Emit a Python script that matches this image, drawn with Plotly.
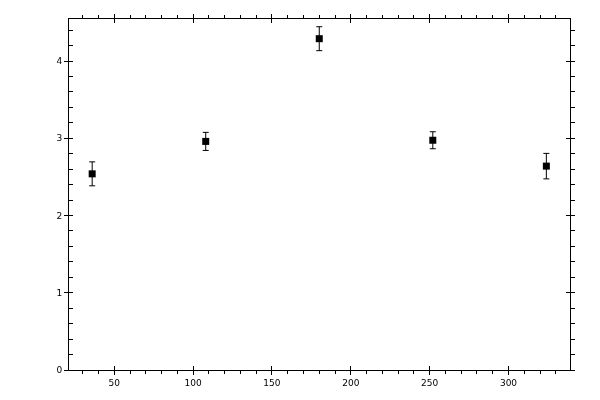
import plotly.graph_objects as go

# Data
angle = [36, 108, 180, 252, 324]
value = [2.54, 2.96, 4.29, 2.975, 2.64]
error = [0.155, 0.117, 0.155, 0.11, 0.165]

x_range = [21.3, 339.0]
y_range = [0, 4.545]

fig = go.Figure()

fig.add_trace(go.Scatter(
    x=angle,
    y=value,
    mode="markers",
    marker=dict(symbol="square", size=7, color="black"),
    error_y=dict(type="data", array=error, color="black", thickness=1, width=3),
    showlegend=False,
    hoverinfo="skip",
))

# invisible copies so the extra tick axes get drawn
for xa, ya in [("x2", "y2"), ("x2", "y3")]:
    fig.add_trace(go.Scatter(
        x=angle, y=value, xaxis=xa, yaxis=ya,
        mode="markers", opacity=0, showlegend=False, hoverinfo="skip",
    ))

tick_font = dict(family="DejaVu Sans", size=9, color="black")

# page body has an 8px margin, so shift the plot area back
fig.update_layout(
    width=600,
    height=400,
    margin=dict(l=61, r=38, t=11, b=38, autoexpand=False),
    plot_bgcolor="white",
    paper_bgcolor="white",
    xaxis=dict(
        range=x_range, tickvals=[50, 100, 150, 200, 250, 300], automargin=False,
        showgrid=False, zeroline=False, showline=True, linecolor="black", linewidth=1,
        mirror="ticks", ticks="outside", ticklen=4, tickcolor="black", tickwidth=1,
        minor=dict(dtick=10, tick0=0, ticks="outside", ticklen=3, tickcolor="black", showgrid=False),
        tickfont=tick_font,
    ),
    xaxis2=dict(
        range=x_range, tickvals=[50, 100, 150, 200, 250, 300], overlaying="x", automargin=False,
        showgrid=False, zeroline=False, showline=False, showticklabels=False,
        mirror="ticks", ticks="inside", ticklen=4, tickcolor="black", tickwidth=1,
    ),
    yaxis=dict(
        range=y_range, tickvals=[0, 1, 2, 3, 4], automargin=False,
        showgrid=False, zeroline=False, showline=True, linecolor="black", linewidth=1,
        ticks="outside", ticklen=4, tickcolor="black", tickwidth=1,
        minor=dict(dtick=0.2, tick0=0, ticks="inside", ticklen=4, tickcolor="black", showgrid=False),
        tickfont=tick_font,
    ),
    yaxis2=dict(
        range=y_range, tickvals=[0, 1, 2, 3, 4], overlaying="y", anchor="x2", automargin=False,
        showgrid=False, zeroline=False, showline=False, showticklabels=False,
        mirror="ticks", ticks="inside", ticklen=4, tickcolor="black", tickwidth=1,
    ),
    yaxis3=dict(
        range=y_range, tickvals=[0, 1, 2, 3, 4], overlaying="y", side="right", anchor="x2",
        automargin=False,
        showgrid=False, zeroline=False, showline=True, linecolor="black", linewidth=1,
        showticklabels=False,
        ticks="outside", ticklen=4, tickcolor="black", tickwidth=1,
        minor=dict(dtick=0.2, tick0=0, ticks="outside", ticklen=4, tickcolor="black", showgrid=False),
    ),
)

fig.write_html("out.html")
